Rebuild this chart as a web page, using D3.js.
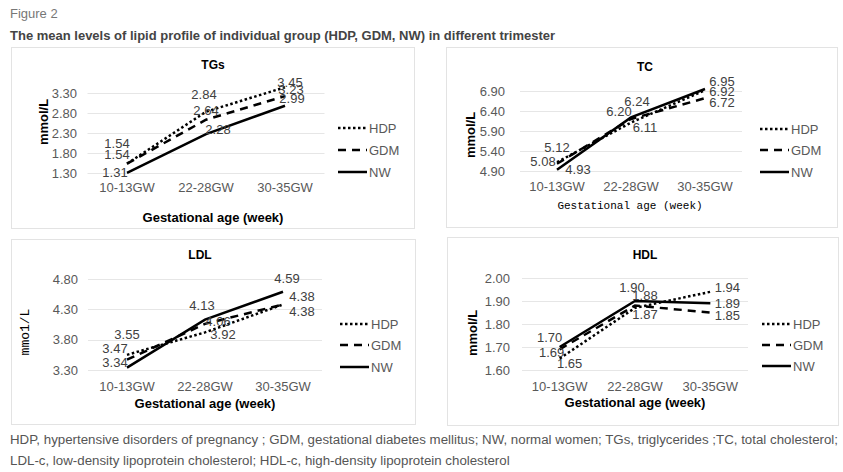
<!DOCTYPE html>
<html>
<head>
<meta charset="utf-8">
<script src="https://cdn.jsdelivr.net/npm/d3@7"></script>
<style>
  body { margin: 0; background: #fff; }
  svg { display: block; font-family: 'Liberation Sans', Arial, sans-serif; }
</style>
</head>
<body>
<div id="chart"></div>
<script>
// data
var categories = ['10-13GW', '22-28GW', '30-35GW']
var seriesNames = ['HDP', 'GDM', 'NW']

var tgHDP = [1.54, 2.84, 3.45]
var tgGDM = [1.54, 2.64, 3.23]
var tgNW = [1.31, 2.28, 2.99]
var tgTicks = [1.30, 1.80, 2.30, 2.80, 3.30]

var tcHDP = [5.12, 6.11, 6.92]
var tcGDM = [5.08, 6.20, 6.72]
var tcNW = [4.93, 6.24, 6.95]
var tcTicks = [4.90, 5.40, 5.90, 6.40, 6.90]

var ldlHDP = [3.55, 3.92, 4.38]
var ldlGDM = [3.47, 4.06, 4.38]
var ldlNW = [3.34, 4.13, 4.59]
var ldlTicks = [3.30, 3.80, 4.30, 4.80]

var hdlHDP = [1.65, 1.87, 1.94]
var hdlGDM = [1.69, 1.88, 1.85]
var hdlNW = [1.70, 1.90, 1.89]
var hdlTicks = [1.60, 1.70, 1.80, 1.90, 2.00]

var footnote = [
  'HDP, hypertensive disorders of pregnancy ; GDM, gestational diabetes mellitus; NW, normal women; TGs, triglycerides ;TC, total cholesterol;',
  'LDL-c, low-density lipoprotein cholesterol; HDL-c, high-density lipoprotein cholesterol'
]

var W = 843, H = 472
var svg = d3.select('#chart').append('svg').attr('width', W).attr('height', H)

svg.append('text').attr('x', 10).attr('y', 18)
  .style('font-size', '13px').style('fill', '#777').text('Figure 2')
svg.append('text').attr('x', 10).attr('y', 40)
  .style('font-size', '13px').style('font-weight', 'bold').style('fill', '#444')
  .text('The mean levels of lipid profile of individual group (HDP, GDM, NW) in different trimester')

var dashes = { HDP: '2.5,2.5', GDM: '8,6', NW: null }
var monoFont = "'Liberation Mono', 'Courier New', monospace"

// label offsets [dx, dy] per series, per category
var panels = [
  {
    title: 'TGs', values: [tgHDP, tgGDM, tgNW], ticks: tgTicks,
    box: [11, 47, 403, 181], xr: [87.5, 324.5], yr: [173.3, 93.3],
    tickX: 77, yTitleX: 43, yTitleY: 122, yTitle: 'mmol/L', yTitleFont: null,
    titleXY: [213, 69], xLabY: 192, xTitleXY: [213, 222], xTitleFont: null,
    legX: 338, legY: [128, 150, 172],
    offs: [[[-10, -20], [-2, -17], [5, -5]], [[-10, -9], [0, -9], [6, -7]], [[-12, 0], [12, -5], [7, -7]]]
  },
  {
    title: 'TC', values: [tcHDP, tcGDM, tcNW], ticks: tcTicks,
    box: [446, 47, 391, 180], xr: [520, 742], yr: [171, 91],
    tickX: 505, yTitleX: 470, yTitleY: 135, yTitle: 'mmol/L', yTitleFont: null,
    titleXY: [645, 71], xLabY: 191, xTitleXY: [630, 209], xTitleFont: monoFont,
    legX: 760, legY: [129, 150, 172],
    offs: [[[0, -15], [14, 5], [17, 1]], [[-14, -2], [-12, -8], [17, 4]], [[21, 0], [6, -16], [17, -8]]]
  },
  {
    title: 'LDL', values: [ldlHDP, ldlGDM, ldlNW], ticks: ldlTicks,
    box: [11, 239, 404, 185], xr: [88, 322], yr: [370, 279],
    tickX: 78, yTitleX: 24, yTitleY: 332, yTitle: 'mmo1/L', yTitleFont: monoFont,
    titleXY: [200, 259], xLabY: 391, xTitleXY: [205, 408], xTitleFont: null,
    legX: 340, legY: [324, 345, 367],
    offs: [[[0, -20], [18, 2], [19, 7]], [[-12, -11], [13, -2], [19, -8]], [[-12, -5], [-3, -14], [4, -13]]]
  },
  {
    title: 'HDL', values: [hdlHDP, hdlGDM, hdlNW], ticks: hdlTicks,
    box: [447, 237, 391, 188], xr: [522, 748], yr: [370, 278],
    tickX: 510, yTitleX: 472, yTitleY: 333, yTitle: 'mmol/L', yTitleFont: null,
    titleXY: [645, 259], xLabY: 391, xTitleXY: [635, 407], xTitleFont: null,
    legX: 762, legY: [324, 345, 366],
    offs: [[[10, 5], [10, 7], [17, -4]], [[-8, 3], [10, -10], [17, 3]], [[-10, -10], [-3, -14], [17, 0]]]
  }
]

panels.forEach(function (p) {
  var g = svg.append('g')

  g.append('rect')
    .attr('x', p.box[0] + 0.5).attr('y', p.box[1] + 0.5)
    .attr('width', p.box[2]).attr('height', p.box[3])
    .attr('fill', '#fff').attr('stroke', '#e3e3e3')

  var x = d3.scalePoint().domain(categories).range(p.xr).padding(0.5)
  var y = d3.scaleLinear().domain([p.ticks[0], p.ticks[p.ticks.length - 1]]).range(p.yr)

  // gridlines
  g.selectAll('.grid').data(p.ticks).enter().append('line')
    .attr('x1', p.xr[0]).attr('x2', p.xr[1])
    .attr('y1', function (d) { return Math.round(y(d)) + 0.5 })
    .attr('y2', function (d) { return Math.round(y(d)) + 0.5 })
    .attr('stroke', '#e6e6e6')

  g.selectAll('.ytick').data(p.ticks).enter().append('text')
    .attr('x', p.tickX).attr('y', function (d) { return y(d) + 4.5 })
    .attr('text-anchor', 'end')
    .style('font-size', '13px').style('fill', '#595959')
    .text(function (d) { return d.toFixed(2) })

  g.selectAll('.xtick').data(categories).enter().append('text')
    .attr('x', function (d) { return x(d) }).attr('y', p.xLabY)
    .attr('text-anchor', 'middle')
    .style('font-size', '13px').style('fill', '#595959')
    .text(function (d) { return d })

  g.append('text').attr('x', p.titleXY[0]).attr('y', p.titleXY[1])
    .attr('text-anchor', 'middle')
    .style('font-size', '12px').style('font-weight', 'bold').style('fill', '#000')
    .text(p.title)

  var xt = g.append('text').attr('x', p.xTitleXY[0]).attr('y', p.xTitleXY[1])
    .attr('text-anchor', 'middle').style('fill', '#000')
    .text('Gestational age (week)')
  if (p.xTitleFont) xt.style('font-family', p.xTitleFont).style('font-size', '11px')
  else xt.style('font-size', '13px').style('font-weight', 'bold')

  var yt = g.append('text')
    .attr('transform', 'translate(' + p.yTitleX + ',' + p.yTitleY + ') rotate(-90)')
    .attr('dy', '0.35em').attr('text-anchor', 'middle').style('fill', '#000')
    .text(p.yTitle)
  if (p.yTitleFont) yt.style('font-family', p.yTitleFont).style('font-size', '13px')
  else yt.style('font-size', '13px').style('font-weight', 'bold')

  var line = d3.line()
    .x(function (d, i) { return x(categories[i]) })
    .y(function (d) { return y(d) })

  p.values.forEach(function (vals, si) {
    var name = seriesNames[si]
    g.append('path').datum(vals)
      .attr('d', line)
      .attr('fill', 'none').attr('stroke', '#000').attr('stroke-width', 2.5)
      .attr('stroke-dasharray', dashes[name])
  })

  p.values.forEach(function (vals, si) {
    g.selectAll('.lab' + si).data(vals).enter().append('text')
      .attr('x', function (d, i) { return x(categories[i]) + p.offs[si][i][0] })
      .attr('y', function (d, i) { return y(d) + p.offs[si][i][1] })
      .attr('dy', '0.35em').attr('text-anchor', 'middle')
      .style('font-size', '13px').style('fill', '#404040')
      .text(function (d) { return d.toFixed(2) })
  })

  // legend
  seriesNames.forEach(function (name, i) {
    var ly = p.legY[i]
    g.append('line')
      .attr('x1', p.legX).attr('x2', p.legX + 29)
      .attr('y1', ly).attr('y2', ly)
      .attr('stroke', '#000').attr('stroke-width', 2.5)
      .attr('stroke-dasharray', dashes[name])
    g.append('text').attr('x', p.legX + 31).attr('y', ly + 4.5)
      .style('font-size', '13px').style('fill', '#595959')
      .text(name)
  })
})

// footnote: first line squeezed to the page width, second line by the same factor
var foot = svg.selectAll('.foot').data(footnote).enter().append('text')
  .attr('x', 10).attr('y', function (d, i) { return 444 + i * 21 })
  .style('font-size', '12px').style('fill', '#555')
  .text(function (d) { return d })
var natural = foot.nodes()[0].getComputedTextLength()
var squeeze = 828 / natural
foot.each(function () {
  var len = this.getComputedTextLength() * squeeze
  d3.select(this).attr('textLength', len).attr('lengthAdjust', 'spacingAndGlyphs')
})
</script>
</body>
</html>
